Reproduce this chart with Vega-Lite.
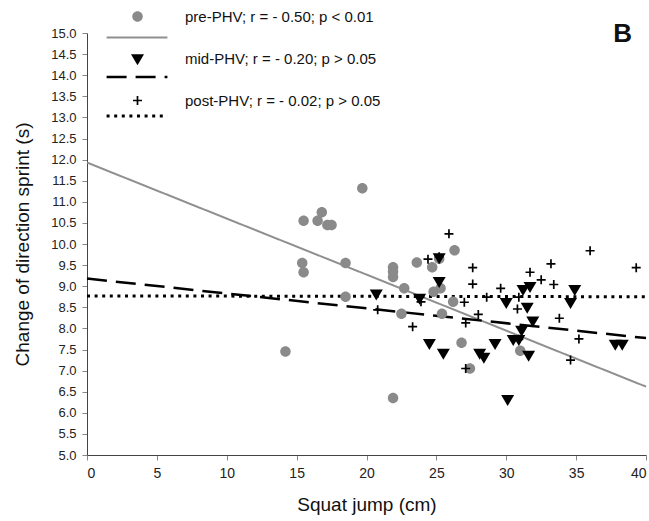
{
  "$schema": "https://vega.github.io/schema/vega-lite/v6.json",
  "autosize": {"type": "none"},
  "padding": {"left": 87, "top": 33, "right": 3, "bottom": 66},
  "width": 559,
  "height": 422,
  "background": "white",
  "config": {
    "view": {"stroke": null},
    "font": "Liberation Sans",
    "axis": {"grid": false, "labelFont": "Liberation Sans", "titleFont": "Liberation Sans", "labelColor": "#222", "titleColor": "#111", "domainColor": "#444", "tickColor": "#888", "tickSize": 5, "titleFontWeight": "normal"}
  },
  "title": {"text": "B", "anchor": "end", "orient": "top", "offset": -41, "fontSize": 26, "fontWeight": "bold", "dx": -20, "color": "#111", "font": "Liberation Sans"},
  "datasets": {
    "points": [
      {"group": "pre-PHV", "sj": 14.2, "cod": 7.45},
      {"group": "pre-PHV", "sj": 15.4, "cod": 9.55},
      {"group": "pre-PHV", "sj": 15.5, "cod": 9.33},
      {"group": "pre-PHV", "sj": 15.5, "cod": 10.55},
      {"group": "pre-PHV", "sj": 16.5, "cod": 10.55},
      {"group": "pre-PHV", "sj": 16.8, "cod": 10.75},
      {"group": "pre-PHV", "sj": 17.2, "cod": 10.45},
      {"group": "pre-PHV", "sj": 17.5, "cod": 10.45},
      {"group": "pre-PHV", "sj": 18.5, "cod": 9.55},
      {"group": "pre-PHV", "sj": 18.5, "cod": 8.75},
      {"group": "pre-PHV", "sj": 19.7, "cod": 11.32},
      {"group": "pre-PHV", "sj": 21.9, "cod": 9.45},
      {"group": "pre-PHV", "sj": 21.9, "cod": 9.34},
      {"group": "pre-PHV", "sj": 21.9, "cod": 9.22},
      {"group": "pre-PHV", "sj": 21.9, "cod": 6.35},
      {"group": "pre-PHV", "sj": 22.7, "cod": 8.95},
      {"group": "pre-PHV", "sj": 22.5, "cod": 8.35},
      {"group": "pre-PHV", "sj": 23.6, "cod": 9.56},
      {"group": "pre-PHV", "sj": 24.7, "cod": 9.45},
      {"group": "pre-PHV", "sj": 24.8, "cod": 8.87},
      {"group": "pre-PHV", "sj": 25.3, "cod": 8.95},
      {"group": "pre-PHV", "sj": 25.2, "cod": 9.65},
      {"group": "pre-PHV", "sj": 26.3, "cod": 9.85},
      {"group": "pre-PHV", "sj": 26.2, "cod": 8.63},
      {"group": "pre-PHV", "sj": 25.4, "cod": 8.35},
      {"group": "pre-PHV", "sj": 26.8, "cod": 7.66},
      {"group": "pre-PHV", "sj": 27.4, "cod": 7.05},
      {"group": "pre-PHV", "sj": 31.0, "cod": 7.47},
      {"group": "mid-PHV", "sj": 20.7, "cod": 8.82},
      {"group": "mid-PHV", "sj": 23.8, "cod": 8.72},
      {"group": "mid-PHV", "sj": 25.2, "cod": 9.68},
      {"group": "mid-PHV", "sj": 25.2, "cod": 9.12},
      {"group": "mid-PHV", "sj": 24.5, "cod": 7.65},
      {"group": "mid-PHV", "sj": 25.5, "cod": 7.42},
      {"group": "mid-PHV", "sj": 28.1, "cod": 7.42},
      {"group": "mid-PHV", "sj": 28.4, "cod": 7.32},
      {"group": "mid-PHV", "sj": 29.2, "cod": 7.65},
      {"group": "mid-PHV", "sj": 30.0, "cod": 8.62},
      {"group": "mid-PHV", "sj": 30.1, "cod": 6.32},
      {"group": "mid-PHV", "sj": 30.5, "cod": 7.74},
      {"group": "mid-PHV", "sj": 30.9, "cod": 7.74},
      {"group": "mid-PHV", "sj": 31.1, "cod": 7.96},
      {"group": "mid-PHV", "sj": 31.2, "cod": 8.93},
      {"group": "mid-PHV", "sj": 31.7, "cod": 9.0},
      {"group": "mid-PHV", "sj": 31.5, "cod": 8.51},
      {"group": "mid-PHV", "sj": 31.6, "cod": 7.37},
      {"group": "mid-PHV", "sj": 31.9, "cod": 8.18},
      {"group": "mid-PHV", "sj": 34.6, "cod": 8.62},
      {"group": "mid-PHV", "sj": 34.9, "cod": 8.93},
      {"group": "mid-PHV", "sj": 37.8, "cod": 7.63},
      {"group": "mid-PHV", "sj": 38.3, "cod": 7.63},
      {"group": "post-PHV", "sj": 20.8, "cod": 8.44},
      {"group": "post-PHV", "sj": 23.3, "cod": 8.04},
      {"group": "post-PHV", "sj": 23.9, "cod": 8.63},
      {"group": "post-PHV", "sj": 24.4, "cod": 9.64},
      {"group": "post-PHV", "sj": 25.2, "cod": 9.7},
      {"group": "post-PHV", "sj": 25.9, "cod": 10.24},
      {"group": "post-PHV", "sj": 27.0, "cod": 8.62},
      {"group": "post-PHV", "sj": 27.1, "cod": 8.13},
      {"group": "post-PHV", "sj": 27.1, "cod": 7.05},
      {"group": "post-PHV", "sj": 27.6, "cod": 9.44},
      {"group": "post-PHV", "sj": 27.6, "cod": 9.05},
      {"group": "post-PHV", "sj": 28.0, "cod": 8.33},
      {"group": "post-PHV", "sj": 28.6, "cod": 8.74},
      {"group": "post-PHV", "sj": 29.6, "cod": 8.95},
      {"group": "post-PHV", "sj": 30.9, "cod": 8.74},
      {"group": "post-PHV", "sj": 30.8, "cod": 8.46},
      {"group": "post-PHV", "sj": 30.9, "cod": 7.74},
      {"group": "post-PHV", "sj": 31.7, "cod": 9.33},
      {"group": "post-PHV", "sj": 32.5, "cod": 9.15},
      {"group": "post-PHV", "sj": 33.2, "cod": 9.53},
      {"group": "post-PHV", "sj": 33.4, "cod": 9.04},
      {"group": "post-PHV", "sj": 33.8, "cod": 8.24},
      {"group": "post-PHV", "sj": 34.6, "cod": 7.25},
      {"group": "post-PHV", "sj": 35.2, "cod": 7.75},
      {"group": "post-PHV", "sj": 36.0, "cod": 9.84},
      {"group": "post-PHV", "sj": 39.3, "cod": 9.44}
    ],
    "fits": [
      {"fit": "pre", "sj": 0, "cod": 11.93},
      {"fit": "pre", "sj": 40, "cod": 6.62},
      {"fit": "mid", "sj": 0, "cod": 9.18},
      {"fit": "mid", "sj": 40, "cod": 7.77},
      {"fit": "post", "sj": 0, "cod": 8.77},
      {"fit": "post", "sj": 40, "cod": 8.75}
    ]
  },
  "encoding": {
    "x": {"field": "sj", "type": "quantitative", "scale": {"domain": [0, 40], "nice": false},
      "axis": {"values": [0, 5, 10, 15, 20, 25, 30, 35, 40], "title": "Squat jump (cm)", "titleFontSize": 19, "labelFontSize": 14, "labelPadding": 6, "titlePadding": 15}},
    "y": {"field": "cod", "type": "quantitative", "scale": {"domain": [5, 15], "nice": false, "zero": false},
      "axis": {"values": [5, 5.5, 6, 6.5, 7, 7.5, 8, 8.5, 9, 9.5, 10, 10.5, 11, 11.5, 12, 12.5, 13, 13.5, 14, 14.5, 15], "format": ".1f", "title": "Change of direction sprint (s)", "titleFontSize": 19, "labelFontSize": 13, "labelPadding": 6, "titlePadding": 18}}
  },
  "layer": [
    {
      "data": {"name": "fits"},
      "mark": {"type": "line", "strokeCap": "butt"},
      "encoding": {
        "stroke": {"field": "fit", "type": "nominal", "scale": {"domain": ["pre", "mid", "post"], "range": ["#8f8f8f", "#000000", "#000000"]}, "legend": {"orient": "none", "legendX": 18, "legendY": -27, "title": null, "labelExpr": "''", "labelFontSize": 13, "symbolSize": 3700, "rowPadding": -20.5, "padding": 0, "symbolType": "stroke"}},
        "strokeDash": {"field": "fit", "type": "nominal", "scale": {"domain": ["pre", "mid", "post"], "range": [[1, 0], [20, 9], [3, 4.6]]}, "legend": {"orient": "none", "legendX": 18, "legendY": -27, "title": null, "labelExpr": "''", "labelFontSize": 13, "symbolSize": 3700, "rowPadding": -20.5, "padding": 0, "symbolType": "stroke"}},
        "strokeWidth": {"field": "fit", "type": "nominal", "scale": {"domain": ["pre", "mid", "post"], "range": [2, 3, 3.5]}, "legend": {"orient": "none", "legendX": 18, "legendY": -27, "title": null, "labelExpr": "''", "labelFontSize": 13, "symbolSize": 3700, "rowPadding": -20.5, "padding": 0, "symbolType": "stroke"}}
      }
    },
    {
      "data": {"name": "points"},
      "mark": {"type": "point", "filled": true, "opacity": 1, "strokeWidth": 0, "size": 100},
      "encoding": {
        "color": {"field": "group", "type": "nominal", "scale": {"domain": ["pre-PHV", "mid-PHV", "post-PHV"], "range": ["#8a8a8a", "#000000", "#000000"]},
          "legend": {"orient": "none", "legendX": 43, "legendY": -24, "title": null, "padding": 0, "rowPadding": 26, "labelOffset": 40, "symbolSize": 100, "labelFontSize": 15, "labelLimit": 400, "labelColor": "#111", "labelFont": "Liberation Sans",
            "labelExpr": "datum.label == 'pre-PHV' ? 'pre-PHV; r = - 0.50; p < 0.01' : datum.label == 'mid-PHV' ? 'mid-PHV; r = - 0.20; p > 0.05' : 'post-PHV; r = - 0.02; p > 0.05'",
            "encode": {"labels": {"fontWeight": {"value": {"expr": "datum.value == 'pre-PHV' ? 'bold' : 'normal'"}}}}}},
        "shape": {"field": "group", "type": "nominal", "scale": {"domain": ["pre-PHV", "mid-PHV", "post-PHV"], "range": [
          "M-1.05,0A1.05,1.05,0,1,0,1.05,0A1.05,1.05,0,1,0,-1.05,0Z",
          "M-1.3,-0.85L1.3,-0.85L0,1.35Z",
          "M-0.9,-0.17H-0.17V-0.9H0.17V-0.17H0.9V0.17H0.17V0.9H-0.17V0.17H-0.9Z"]}}
      }
    }
  ]
}
